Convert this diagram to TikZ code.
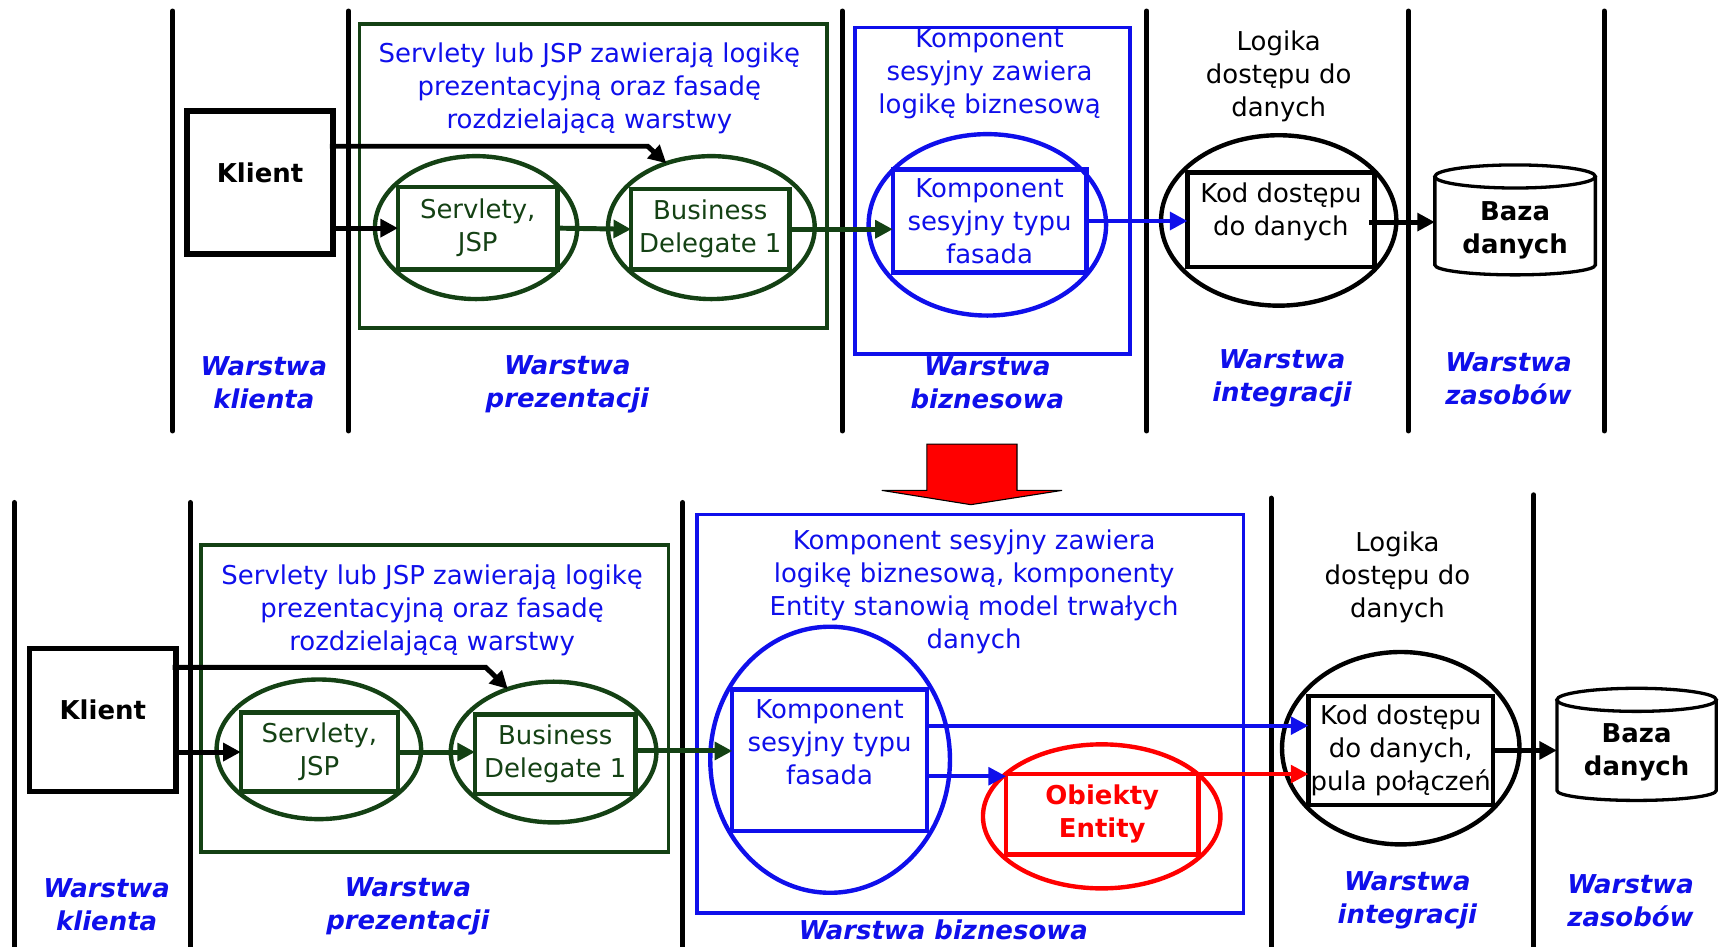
\documentclass[tikz,border=0pt]{standalone}
\usepackage{fontspec}
\setmainfont{DejaVu Sans}
\usetikzlibrary{arrows.meta,shapes.geometric,calc}
\definecolor{dgreen}{RGB}{20,65,20}
\definecolor{lblue}{RGB}{15,15,235}
\definecolor{lred}{RGB}{255,0,0}

% database cylinder drawn around a rectangular node (#2 = half width)
\newcommand\dbcylinder[2]{%
  \draw[cylline] ($(#1.north)+(0,10.5)$) ellipse [x radius=#2pt, y radius=10.5pt];
  \draw[cylline] ($(#1.north west)+(0,10.5)$) -- ($(#1.south west)+(0,-9)$)
     arc[start angle=180, end angle=360, x radius=#2pt, y radius=9pt]
     -- ($(#1.north east)+(0,10.5)$);
}

\begin{document}
\begin{tikzpicture}[x=1pt,y=-1pt,
  every node/.style={font=\fontsize{23.6}{30}\selectfont, inner sep=0pt, outer sep=0pt},
  sepline/.style={line width=4.5pt, line cap=round},
  clientbox/.style={draw, line width=5pt, minimum width=133pt, minimum height=130pt},
  boldtxt/.style={font=\fontsize{23.6}{30}\selectfont\bfseries, align=center},
  grp/.style={draw, line width=3.5pt},
  oval/.style={ellipse, draw, line width=4pt},
  inbox/.style={rectangle, draw, line width=4pt, align=center},
  txt/.style={align=center},
  dbnode/.style={rectangle, align=center, font=\fontsize{23.6}{30}\selectfont\bfseries},
  layer/.style={align=center, text=lblue, font=\fontsize{23.6}{30}\selectfont\bfseries\itshape},
  arr/.style={line width=4.5pt, -{Triangle[length=16pt,width=16pt]}},
  cylline/.style={line width=3pt},
]
\useasboundingbox (0,0) rectangle (1568,861);

% ================= upper architecture =================
% layer separators
\foreach \xx in {157,317,766,1043,1281,1459}
  \draw[sepline] (\xx,10) -- (\xx,392);

% client tier
\node[clientbox] (klient1) at (236.5,166) {};
\node[boldtxt] (klient1txt) at ($(klient1)+(0,-9)$) {Klient};

% presentation tier
\node[grp, dgreen, minimum width=425pt, minimum height=276pt] (gp1) at (539.5,160) {};
\node[txt, text=lblue] (gp1txt) at (536,80) {Servlety lub JSP zawierają logikę\\prezentacyjną oraz fasadę\\rozdzielającą warstwy};
\node[oval, dgreen, minimum width=184pt, minimum height=130pt] (e1a) at (433,207) {};
\node[inbox, dgreen, text=dgreen, minimum width=145pt, minimum height=75pt] (r1a) at (434.5,207.5) {Servlety,\\JSP};
\node[oval, dgreen, minimum width=188pt, minimum height=130pt] (e1b) at (647,207) {};
\node[inbox, dgreen, text=dgreen, minimum width=144pt, minimum height=73pt] (r1b) at (646,208.5) {Business\\Delegate 1};

% business tier
\node[grp, lblue, minimum width=250pt, minimum height=297pt] (gb1) at (903,173.5) {};
\node[txt, text=lblue] (gb1txt) at (900,67) {Komponent\\sesyjny zawiera\\logikę biznesową};
\node[oval, lblue, minimum width=216pt, minimum height=165pt] (e1c) at (898,204.5) {};
\node[inbox, lblue, text=lblue, minimum width=176pt, minimum height=94pt] (r1c) at (900,201) {Komponent\\sesyjny typu\\fasada};

% integration tier
\node[txt] (log1) at (1163,69) {Logika\\dostępu do\\danych};
\node[oval, minimum width=214pt, minimum height=155pt] (e1d) at (1163,200.5) {};
\node[inbox, minimum width=170pt, minimum height=86pt] (r1d) at (1165,200) {};
\node[txt] (r1dtxt) at ($(r1d)+(0,-7)$) {Kod dostępu\\do danych};

% resource tier
\node[dbnode, minimum width=146pt, minimum height=100pt] (cyl1) at (1378,200) {};
\dbcylinder{cyl1}{73}
\node[dbnode] (cyl1txt) at ($(cyl1)+(0,9.5)$) {Baza\\danych};

% connectors
\draw[arr] (klient1.east |- r1a.west) -- (r1a.west);
\draw[arr, dgreen] (r1a.east) -- (r1b.west);
\draw[arr] ($(klient1.north east)+(-3,32)$) -- ($(e1b.125)+(-17,-15.5)$) -- (e1b.125);
\draw[arr, dgreen] (r1b.east) -- (r1c.west |- r1b.east);
\draw[arr, lblue] (r1c.east) -- (r1c.east -| r1d.west);
\coordinate (k1out) at ($(r1d.east)+(-5,2)$);
\draw[arr] (k1out) -- (k1out -| cyl1.west);

% tier captions
\node[layer] (l1a) at (240,348) {Warstwa\\klienta};
\node[layer] (l1b) at (516,350) {Warstwa\\prezentacji};
\node[layer] (l1c) at (898,348) {Warstwa\\biznesowa};
\node[layer] (l1d) at (1166,344.5) {Warstwa\\integracji};
\node[layer] (l1e) at (1372,344.5) {Warstwa\\zasobów};

% ================= transition arrow =================
\draw[fill=lred, line width=1pt, line join=miter]
  (843,404) -- (925,404) -- (925,446) -- (966,446) -- (883,459) -- (802,446) -- (843,446) -- cycle;

% ================= lower architecture =================
\foreach \xx/\yy in {13/457,173/457,621/457,1156/453,1395/450}
  \draw[sepline] (\xx,\yy) -- (\xx,866);

% client tier
\node[clientbox] (klient2) at (93.5,655) {};
\node[boldtxt] (klient2txt) at ($(klient2)+(0,-9)$) {Klient};

% presentation tier
\node[grp, dgreen, minimum width=425pt, minimum height=279pt] (gp2) at (395.5,635.5) {};
\node[txt, text=lblue] (gp2txt) at (393,555) {Servlety lub JSP zawierają logikę\\prezentacyjną oraz fasadę\\rozdzielającą warstwy};
\node[oval, dgreen, minimum width=186pt, minimum height=127pt] (e2a) at (290,681.5) {};
\node[inbox, dgreen, text=dgreen, minimum width=143pt, minimum height=72pt] (r2a) at (290.5,684) {Servlety,\\JSP};
\node[oval, dgreen, minimum width=187pt, minimum height=128pt] (e2b) at (503.5,684) {};
\node[inbox, dgreen, text=dgreen, minimum width=146pt, minimum height=72pt] (r2b) at (505,686) {Business\\Delegate 1};

% business tier
\node[grp, lblue, minimum width=497pt, minimum height=362pt] (gb2) at (882.5,649) {};
\node[txt, text=lblue] (gb2txt) at (886,538) {Komponent sesyjny zawiera\\logikę biznesową, komponenty\\Entity stanowią model trwałych\\danych};
\node[oval, lblue, minimum width=218pt, minimum height=242pt] (e2c) at (755,691) {};
\node[inbox, lblue, minimum width=177pt, minimum height=129pt] (r2c) at (754.5,691.5) {};
\node[txt, text=lblue] (r2ctxt) at ($(r2c)+(0,-16.5)$) {Komponent\\sesyjny typu\\fasada};
\node[oval, lred, minimum width=216pt, minimum height=131pt] (e2d) at (1002,742.5) {};
\node[inbox, lred, text=lred, minimum width=175pt, minimum height=73pt,
      font=\fontsize{23.6}{30}\selectfont\bfseries] (r2d) at (1002.5,740.5) {Obiekty\\Entity};

% integration tier
\node[txt] (log2) at (1271,525) {Logika\\dostępu do\\danych};
\node[oval, minimum width=216pt, minimum height=175pt] (e2e) at (1274,680.5) {};
\node[inbox, minimum width=168pt, minimum height=99pt] (r2e) at (1274,682.5) {Kod dostępu\\do danych,\\pula połączeń};

% resource tier
\node[dbnode, minimum width=145pt, minimum height=102pt] (cyl2) at (1488.5,677) {};
\dbcylinder{cyl2}{72.5}
\node[dbnode] (cyl2txt) at ($(cyl2)+(0,7.5)$) {Baza\\danych};

% connectors
\draw[arr] (klient2.east |- r2a.west) -- (r2a.west);
\draw[arr, dgreen] (r2a.east) -- (r2b.west |- r2a.east);
\draw[arr] ($(klient2.north east)+(-3,17)$) -- ($(e2b.126)+(-20,-19.7)$) -- (e2b.126);
\coordinate (bdout) at ($(r2b.east)+(0,-3)$);
\draw[arr, dgreen] (bdout) -- (bdout -| r2c.west);
\coordinate (fasout1) at ($(r2c.east)+(0,-31.5)$);
\coordinate (fasout2) at ($(r2c.east)+(0,14.5)$);
\draw[arr, lblue, line width=3.5pt] (fasout1) -- (fasout1 -| r2e.west);
\draw[arr, lblue, line width=3.5pt] (fasout2) -- (fasout2 -| r2d.west);
\draw[arr, lred, line width=3.5pt] (r2d.north east) -- (r2d.north east -| r2e.west);
\draw[arr] (r2e.east) -- (r2e.east -| cyl2.west);

% tier captions
\node[layer] (l2a) at (97,823) {Warstwa\\klienta};
\node[layer] (l2b) at (371,824) {Warstwa\\prezentacji};
\node[layer] (l2c) at (858,846) {Warstwa biznesowa};
\node[layer] (l2d) at (1280,819) {Warstwa\\integracji};
\node[layer] (l2e) at (1483,819) {Warstwa\\zasobów};
\end{tikzpicture}
\end{document}
